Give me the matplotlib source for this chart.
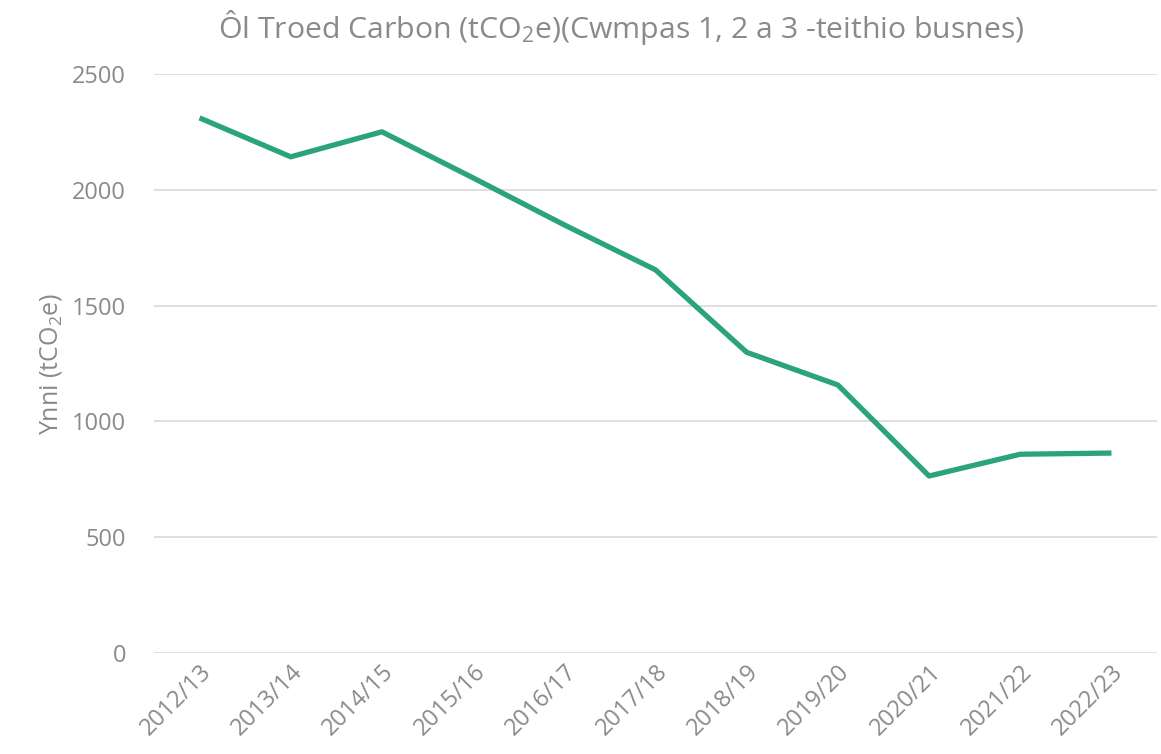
import matplotlib
matplotlib.use("Agg")
import matplotlib.pyplot as plt
import numpy as np

years = ["2012/13", "2013/14", "2014/15", "2015/16", "2016/17", "2017/18",
         "2018/19", "2019/20", "2020/21", "2021/22", "2022/23"]
emissions = [2310, 2142, 2250, 2051, 1848, 1654, 1298, 1157, 764, 858, 863]

FONT = "Open Sans"
GREY = "#8a8a8a"
LINE = "#2ba37f"

plt.rcParams["font.family"] = [FONT, "DejaVu Sans"]
plt.rcParams["mathtext.fontset"] = "custom"
plt.rcParams["mathtext.rm"] = FONT
plt.rcParams["mathtext.it"] = FONT
plt.rcParams["mathtext.default"] = "rm"

fig = plt.figure(figsize=(11.61, 7.54), dpi=100)
ax = fig.add_axes([0.1326, 0.134, 0.864, 0.768])

x = np.arange(len(years))
ax.plot(x, emissions, color=LINE, lw=3.8, solid_capstyle="butt",
        solid_joinstyle="round")

ax.set_xlim(-0.5, len(years) - 0.5)
ax.set_ylim(0, 2500)
ax.set_yticks(np.arange(0, 2501, 500))
ax.yaxis.grid(True, color="#d9d9d9", lw=1.2)
ax.set_axisbelow(True)
for s in ax.spines.values():
    s.set_visible(False)
ax.tick_params(axis="both", length=0, colors=GREY, labelsize=17)
ax.tick_params(axis="y", pad=20)
ax.tick_params(axis="x", pad=5)

ax.set_xticks(x)
ax.set_xticklabels(years, rotation=45, ha="right", rotation_mode="anchor")

ax.set_ylabel(r"Ynni (tCO$_2$e)", color=GREY, fontsize=18, labelpad=6)
fig.text(0.535, 0.964,
         r"Ôl Troed Carbon (tCO$_2$e)(Cwmpas 1, 2 a 3 -teithio busnes)",
         color=GREY, fontsize=21.8, ha="center", va="center")

fig.savefig("out.png", dpi=100)
